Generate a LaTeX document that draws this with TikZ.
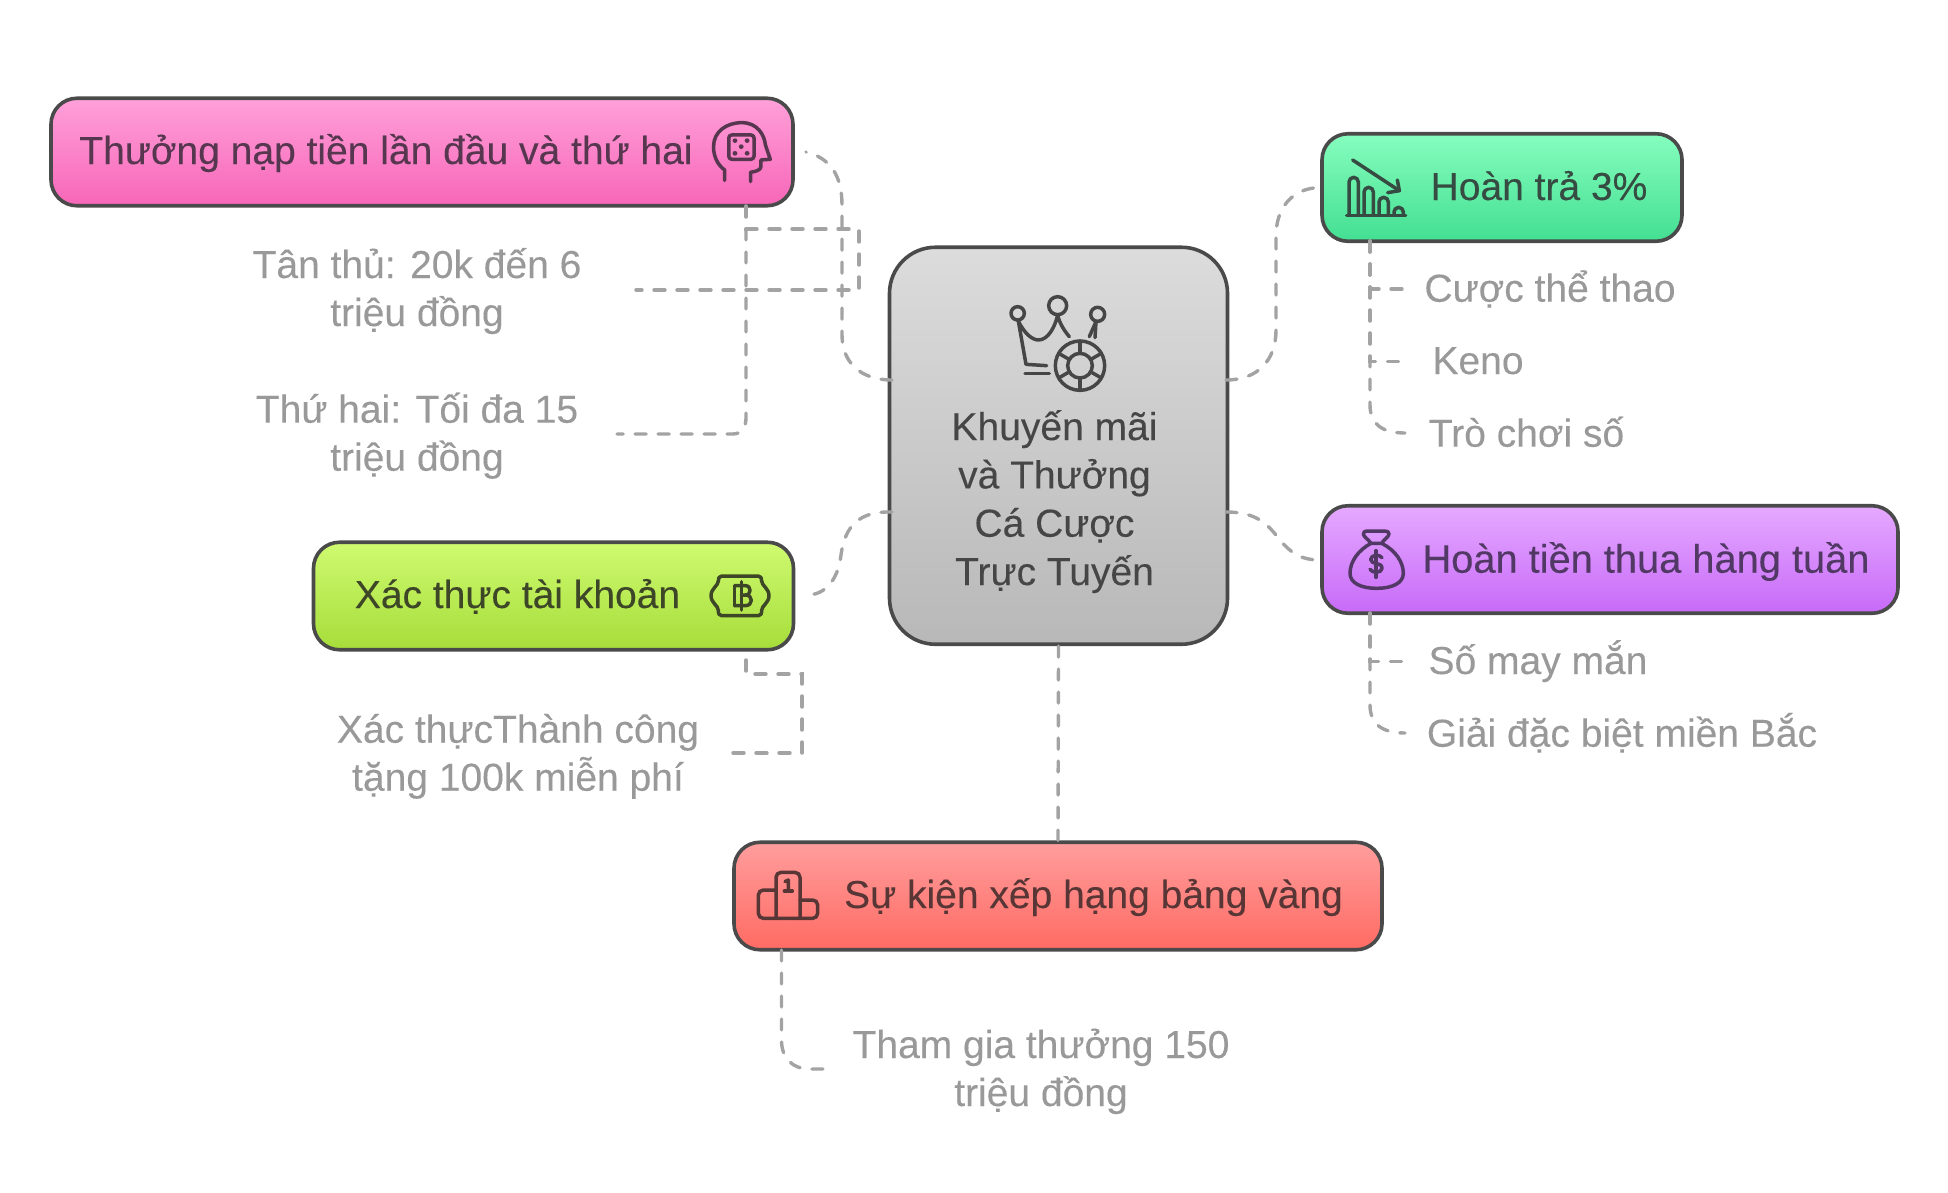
\documentclass[tikz,border=0pt]{standalone}
\usepackage{fontspec}
\setmainfont{Liberation Sans}[FakeBold=0.2]
\definecolor{edge}{HTML}{4A4A4A}
\definecolor{conncol}{HTML}{A3A3A3}
\definecolor{subcol}{HTML}{999999}
\definecolor{pinkT}{HTML}{573750}
\definecolor{greenT}{HTML}{364B42}
\definecolor{limeT}{HTML}{3D4728}
\definecolor{purT}{HTML}{523864}
\definecolor{redT}{HTML}{583636}
\definecolor{hubT}{HTML}{464646}
\tikzset{
  boxnode/.style={draw=edge,line width=3.6pt,rounded corners=26pt,minimum height=107.5pt,inner sep=0pt},
  hubnode/.style={draw=edge,line width=3.6pt,rounded corners=46pt,minimum width=338pt,minimum height=397pt,inner sep=0pt,top color=hubTop,bottom color=hubBot},
  title/.style={inner sep=0pt,anchor=base,font=\fontsize{39}{48.3}\selectfont},
  sub/.style={inner sep=0pt,anchor=base,align=center,text=subcol,font=\fontsize{39}{48}\selectfont},
  conn/.style={draw=conncol,line width=3.4pt,line cap=round,dash pattern=on 11pt off 12pt},
  icon/.style={line width=3.5pt,line cap=round,line join=round},
}
\definecolor{hubTop}{HTML}{DCDCDC}
\definecolor{hubBot}{HTML}{B8B8B8}
\begin{document}
\begin{tikzpicture}[x=1pt,y=-1pt]
\useasboundingbox (0,0) rectangle (1948,1192);
% boxes
\node[hubnode] (hub) at (1058.5,445.75) {};
\node[boxnode,minimum width=742pt,top color={rgb,255:red,255;green,160;blue,217},bottom color={rgb,255:red,247;green,102;blue,184}] (pink) at (422,152) {};
\node[boxnode,minimum width=360pt,top color={rgb,255:red,134;green,253;blue,190},bottom color={rgb,255:red,67;green,223;blue,146}] (green) at (1502,187.5) {};
\node[boxnode,minimum width=576pt,top color={rgb,255:red,229;green,169;blue,255},bottom color={rgb,255:red,199;green,106;blue,248}] (purple) at (1610,559.5) {};
\node[boxnode,minimum width=480pt,top color={rgb,255:red,207;green,250;blue,112},bottom color={rgb,255:red,166;green,221;blue,58}] (lime) at (553.5,596) {};
\node[boxnode,minimum width=648pt,top color={rgb,255:red,255;green,157;blue,157},bottom color={rgb,255:red,255;green,107;blue,99}] (red) at (1058,896) {};
% titles
\node[title,text=hubT,align=center] (hubL) at (1054.5,585) {Khuyến mãi\\và Thưởng\\Cá Cược\\Trực Tuyến};
\node[title,text=pinkT] (pinkL) at (386,164) {Thưởng nạp tiền lần đầu và thứ hai};
\node[title,text=greenT] (greenL) at (1539,200) {Hoàn trả 3\%};
\node[title,text=purT,font=\fontsize{39.8}{48}\selectfont] (purpleL) at (1646,572.7) {Hoàn tiền thua hàng tuần};
\node[title,text=limeT] (limeL) at (517.5,608) {Xác thực tài khoản};
\node[title,text=redT] (redL) at (1093.5,908) {Sự kiện xếp hạng bảng vàng};
% sub labels
\node[sub] (tanthu) at (417,326) {Tân thủ: 20k đến 6\\triệu đồng};
\node[sub] (thuhai) at (417,470.7) {Thứ hai: Tối đa 15\\triệu đồng};
\node[sub] (xacthuc) at (518,790.7) {Xác thựcThành công\\tặng 100k miễn phí};
\node[sub] (thamgia) at (1041,1106) {Tham gia thưởng 150\\triệu đồng};
\node[sub] (cuoc) at (1550,301.7) {Cược thể thao};
\node[sub] (keno) at (1478,374) {Keno};
\node[sub] (tro) at (1526.5,446.7) {Trò chơi số};
\node[sub] (soMay) at (1538,674) {Số may mắn};
\node[sub] (giai) at (1622,746.7) {Giải đặc biệt miền Bắc};
% connector ends
\coordinate (hubUL) at (892,380);
\coordinate (hubLL) at (892,512);
\coordinate (hubUR) at (1226,380);
\coordinate (hubLR) at (1226,512);
\coordinate (pinkE) at (806,152);
\coordinate (limeE) at (807,595);
\coordinate (pinkB) at (746,206);
\coordinate (limeB) at (746,650);
\coordinate (greenB) at (1370,241);
\coordinate (purpleB) at (1370,613);
\coordinate (redB) at (781.5,950);
\coordinate (tanE) at (636,290);
\coordinate (thuE) at (617,434);
\coordinate (xacE) at (733,753);
\coordinate (thamE) at (828,1069);
\coordinate (cuocE) at (1405,289);
\coordinate (kenoE) at (1405,361.5);
\coordinate (troE) at (1405,433);
\coordinate (soE) at (1405,661.5);
\coordinate (giaiE) at (1405,733);
% connectors
\draw[conn] (hubUL) .. controls (860,380) and (842,362) .. (842,335) -- (842,205) .. controls (842,175) and (830,158) .. (pinkE);
\draw[conn] (hubLL) .. controls (860,511) and (845,525) .. (841,555) .. controls (838,580) and (825,595) .. (limeE);
\draw[conn] (hub.south) -- (red.north);
\draw[conn] (hubUR) .. controls (1258,380) and (1276,360) .. (1276,330) -- (1276,236) .. controls (1276,208) and (1292,188) .. (green.west);
\draw[conn] (hubLR) .. controls (1258,512) and (1268,525) .. (1280,540) .. controls (1290,552) and (1300,560) .. (1320,560);
\draw[conn] (pinkB) -- (746,229) -- (859,229) -- (859,290) -- (tanE);
\draw[conn] (pinkB) -- (746,418) .. controls (746,426) and (742,434) .. (733,434) -- (thuE);
\draw[conn] (xacE) -- (802,753) -- (802,674) -- (746,674) -- (limeB);
\draw[conn] (greenB) -- (1370,289) -- (cuocE);
\draw[conn] (greenB) -- (1370,361.5) -- (kenoE);
\draw[conn] (greenB) -- (1370,405) .. controls (1370,424) and (1382,433) .. (troE);
\draw[conn] (purpleB) -- (1370,661.5) -- (soE);
\draw[conn] (purpleB) -- (1370,705) .. controls (1370,724) and (1382,733) .. (giaiE);
\draw[conn] (redB) -- (781.5,1040) .. controls (781.5,1058) and (792,1069) .. (810,1069) -- (thamE);
% icon pink
\begin{scope}[shift={(690,110)},x=.346pt,y=-.333pt,icon,draw=pinkT,fill=pinkT]
\draw (100,212) -- (100,180) .. controls (80,165) and (68,140) .. (68,110) .. controls (68,65) and (105,38) .. (150,38) .. controls (195,38) and (215,75) .. (218,105) -- (232,148) -- (205,150) -- (205,170) .. controls (205,180) and (190,185) .. (175,187) -- (175,215);
\draw[rounded corners=3pt] (112,75) rectangle (185,148);
\foreach \p in {(130,92),(165,92),(148,110),(130,130),(165,130)} \fill[draw=none] \p circle (7);
\end{scope}
% icon green
\begin{scope}[shift={(1340,150)},x=.3333pt,y=-.3333pt,icon,draw=greenT]
\draw (38,30) -- (178,122);
\draw (172,90) -- (178,122) -- (143,128);
\foreach \a/\t in {27/82,72/112,117/142,162/172}
  \draw (\a,195) -- (\a,\t+14) arc[start angle=180,end angle=360,radius=14] -- (\a+28,195);
\draw (20,197) -- (197,197);
\end{scope}
% icon purple
\begin{scope}[shift={(1345,520)},x=.3333pt,y=-.3333pt,icon,draw=purT]
\draw (78,70) .. controls (72,60) and (55,50) .. (55,42) .. controls (55,36) and (60,33) .. (66,33) -- (120,33) .. controls (128,33) and (132,37) .. (132,42) .. controls (132,50) and (115,60) .. (110,70) .. controls (150,90) and (175,125) .. (175,160) .. controls (175,190) and (140,205) .. (95,205) .. controls (50,205) and (15,190) .. (15,160) .. controls (15,125) and (40,90) .. (78,70) -- (110,70);
\draw (111,113) .. controls (105,103) and (78,103) .. (77,118) .. controls (76,135) and (112,125) .. (111,145) .. controls (110,160) and (82,160) .. (75,148);
\draw (93,92) -- (93,172);
\end{scope}
% icon lime
\begin{scope}[shift={(700,565)},x=.3333pt,y=-.3333pt,icon,draw=limeT]
\draw (65,33) -- (175,33) .. controls (183,33) and (185,40) .. (185,48) .. controls (185,62) and (207,70) .. (207,92) .. controls (207,114) and (185,122) .. (185,136) .. controls (185,146) and (183,152) .. (175,152) -- (65,152) .. controls (57,152) and (55,146) .. (55,136) .. controls (55,122) and (33,114) .. (33,92) .. controls (33,70) and (55,62) .. (55,48) .. controls (55,40) and (57,33) .. (65,33) -- cycle;
\draw (104,62) -- (104,122);
\draw (124,50) -- (124,135);
\draw (104,62) -- (136,62) .. controls (155,62) and (155,90) .. (136,90) -- (124,90);
\draw (136,90) .. controls (160,90) and (160,122) .. (136,122) -- (104,122);
\end{scope}
% icon red
\begin{scope}[shift={(750,865)},x=.3333pt,y=-.3333pt,icon,draw=redT,fill=redT]
\draw[rounded corners=5pt] (78,160) -- (78,22) -- (150,22) -- (150,160);
\draw[rounded corners=5pt] (78,75) -- (25,75) -- (25,160) -- (203,160) -- (203,105) -- (150,105);
\draw (105,50) -- (115,45) -- (115,78);
\draw (103,78) -- (127,78);
\end{scope}
% icon hub
\begin{scope}[shift={(1000,285)},x=.3333pt,y=-.3333pt,icon,draw=hubT]
\draw (53,85) circle (20);
\draw (173,62) circle (27);
\draw (293,88) circle (21);
\draw (55,108) -- (78,238) -- (140,242);
\draw (55,108) .. controls (75,150) and (100,165) .. (115,165) .. controls (145,165) and (165,125) .. (173,90) .. controls (178,115) and (195,140) .. (208,155);
\draw (288,110) -- (268,155);
\draw (288,110) -- (285,158);
\draw (75,266) -- (148,266);
\draw (240,242) circle (74);
\draw (240,242) circle (37);
\foreach \a in {30,90,150,210,270,330}
  \draw (240,242) ++(\a:37) -- ++(\a:37);
\end{scope}
\end{tikzpicture}
\end{document}
